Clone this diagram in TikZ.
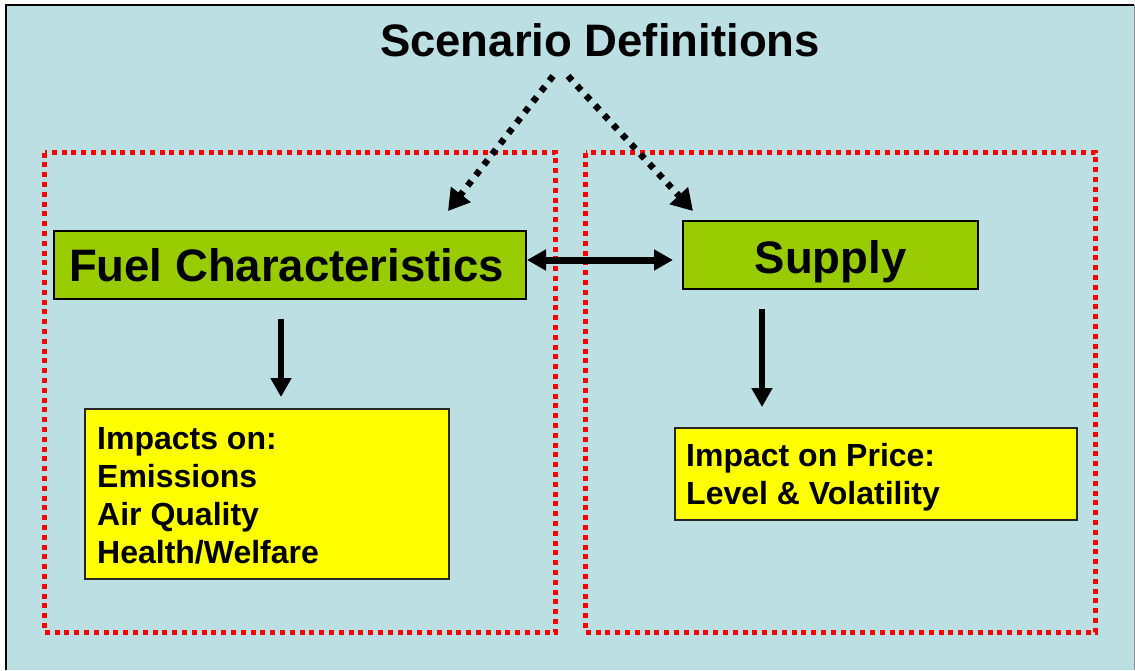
\documentclass[tikz,border=0pt]{standalone}
\usepackage{fontspec}
\setmainfont{Liberation Sans}
\usetikzlibrary{arrows.meta}
\definecolor{bg}{HTML}{BBDFE2}
\definecolor{grn}{HTML}{99CC00}
\definecolor{ylw}{HTML}{FFFF00}
\definecolor{rd}{HTML}{FF0000}
\tikzset{
  bigfont/.style={font=\fontsize{45.5}{54}\selectfont\bfseries},
  smallfont/.style={font=\fontsize{32}{38}\selectfont\bfseries},
  greenbox/.style={draw=black, fill=grn, line width=2pt, inner sep=0pt},
  yellowbox/.style={draw=black!85, fill=ylw, line width=2pt, inner sep=0pt, anchor=north west},
  regionframe/.style={draw=rd, line width=5pt, line cap=butt, dash pattern=on 5pt off 4.8pt},
  dotarrow/.style={draw=black, line width=6.5pt, line cap=butt, dash pattern=on 6pt off 7.3pt, -{Triangle[length=21pt,width=24pt]}},
  solidarrow/.style={draw=black, line width=6pt, -{Triangle[length=19pt,width=20pt]}},
  dblarrow/.style={draw=black, line width=7pt, {Triangle[length=19pt,width=20pt]}-{Triangle[length=19pt,width=20pt]}},
  txt/.style={anchor=base, inner sep=0pt},
  ltxt/.style={anchor=base west, inner sep=0pt, smallfont}
}
\begin{document}
\begin{tikzpicture}[x=1pt,y=-1pt]
\useasboundingbox (0,0) rectangle (1135,670);
% background panel
\fill[bg] (6,5) rectangle (1135,670);
\draw[line width=2pt] (6,670) -- (6,5) -- (1134,5);
\draw[black!45, line width=1pt] (1134,5) -- (1134,670);

% region frames
\draw[regionframe] (44.5,152.5) rectangle (555.5,632.5);
\draw[regionframe] (585.5,152.5) rectangle (1095.5,632.5);

% title
\node[txt, bigfont] (title) at (600,56) {Scenario Definitions};

% green boxes
\node[greenbox, minimum width=472pt, minimum height=68pt] (fuel) at (290,265) {};
\node[txt, bigfont] (fueltxt) at (286.5,281) {Fuel Characteristics};
\node[greenbox, minimum width=295pt, minimum height=68pt] (supply) at (830.5,255) {};
\node[txt, bigfont] (supplytxt) at (830.5,273) {Supply};

% yellow boxes
\node[yellowbox, minimum width=364pt, minimum height=170pt] (impL) at (84,407.5) {};
\node[ltxt] (l1) at (97,449) {Impacts on:};
\node[ltxt] (l2) at (97,487) {Emissions};
\node[ltxt] (l3) at (97,525) {Air Quality};
\node[ltxt] (l4) at (97,563) {Health/Welfare};

\node[yellowbox, minimum width=402pt, minimum height=92pt] (impR) at (674,426.5) {};
\node[ltxt] (r1) at (686,466) {Impact on Price:};
\node[ltxt] (r2) at (686,504) {Level \& Volatility};

% dotted arrows from the title
\coordinate (apexL) at (553,76);
\coordinate (apexR) at (568,76);
\coordinate (tipL) at (448,211);
\coordinate (tipR) at (693,211);
\draw[dotarrow] (apexL) -- (tipL);
\draw[dotarrow] (apexR) -- (tipR);

% double arrow between green boxes
\coordinate (dblL) at (527,260);
\coordinate (dblR) at (673,260);
\draw[dblarrow] (dblL) -- (dblR);

% down arrows
\coordinate (dLs) at (281,319);
\coordinate (dLe) at (281,397);
\coordinate (dRs) at (762,309);
\coordinate (dRe) at (762,407);
\draw[solidarrow] (dLs) -- (dLe);
\draw[solidarrow] (dRs) -- (dRe);
\end{tikzpicture}
\end{document}
